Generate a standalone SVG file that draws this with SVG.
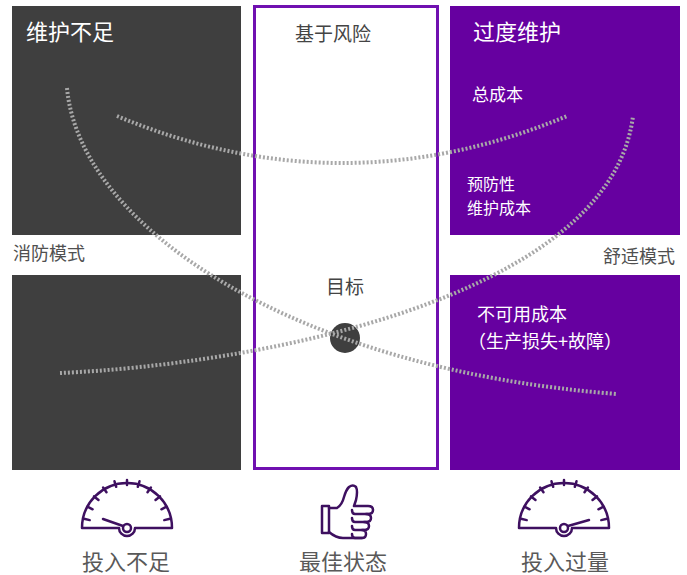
<svg xmlns="http://www.w3.org/2000/svg" width="687" height="575" viewBox="0 0 687 575">
<style>
text{font-family:"Noto Sans CJK SC","Noto Sans",sans-serif}
.dark{fill:#3f3f3f}
.purple{fill:#6600a0}
.wt{fill:#ffffff}
.gt{fill:#444444}
.bt{fill:#595959;font-size:22px;text-anchor:middle}
.curve{fill:none;stroke:#a8a8a8;stroke-width:4;stroke-dasharray:2 2}
.icon{fill:none;stroke:#3e1060;stroke-width:2.5;stroke-linecap:round;stroke-linejoin:round}
</style>
<rect width="687" height="575" fill="#ffffff"/>
<g id="panel-under">
<rect class="dark" x="12" y="6" width="229" height="229"/>
<rect class="dark" x="12" y="275" width="229" height="195"/>
<text class="wt" x="26" y="40" font-size="22">维护不足</text>
</g>
<g id="panel-risk">
<rect x="254.5" y="6.5" width="183" height="462" fill="#ffffff" stroke="#7010b0" stroke-width="3"/>
<text class="gt" x="333" y="41" font-size="19" text-anchor="middle">基于风险</text>
<text class="gt" x="345" y="294" font-size="19" text-anchor="middle">目标</text>
</g>
<g id="panel-over">
<rect class="purple" x="450" y="6" width="230" height="229"/>
<rect class="purple" x="450" y="275" width="230" height="195"/>
<text class="wt" x="473" y="40" font-size="22">过度维护</text>
<text class="wt" x="472" y="101" font-size="17">总成本</text>
<text class="wt" x="467" y="190" font-size="16">预防性</text>
<text class="wt" x="467" y="214" font-size="16">维护成本</text>
<text class="wt" x="477" y="321" font-size="18">不可用成本</text>
<text class="wt" x="468" y="348" font-size="18">（生产损失+故障）</text>
</g>
<g id="mode-labels">
<text x="13" y="260" font-size="18" fill="#505050">消防模式</text>
<text x="675" y="263" font-size="18" fill="#505050" text-anchor="end">舒适模式</text>
</g>
<g id="target">
<circle cx="345" cy="338" r="15" fill="#3f3f3f"/>
</g>
<g id="connectors">
<path class="curve" d="M117,116 Q342,210 567,116"/>
<path class="curve" d="M67,88 C80,230 300,370 617,394"/>
<path class="curve" d="M60,373 C250,365 610,300 633,116"/>
</g>
<g id="icon-under">
<path class="icon" d="M82,528 A45,45 0 0 1 172,528 L135,528 A8,8 0 0 1 119,528 Z"/>
<circle class="icon" cx="127" cy="528" r="4"/>
<line class="icon" x1="103" y1="519" x2="123" y2="526"/>
<g class="icon">
<line x1="89.7" y1="520.1" x2="84" y2="518.8"/><line x1="92.6" y1="509.3" x2="87.5" y2="506.7"/><line x1="98.5" y1="500" x2="94" y2="496.4"/><line x1="106.5" y1="492.3" x2="103.1" y2="487.5"/><line x1="116.2" y1="486.8" x2="114.5" y2="481.3"/><line x1="127" y1="485" x2="127" y2="480"/><line x1="137.8" y1="486.8" x2="139.5" y2="481.3"/><line x1="147.5" y1="492.3" x2="150.9" y2="487.5"/><line x1="155.5" y1="500" x2="160" y2="496.4"/><line x1="161.4" y1="509.3" x2="166.5" y2="506.7"/><line x1="164.3" y1="520.1" x2="170" y2="518.8"/>
</g>
<text class="bt" x="126" y="570">投入不足</text>
</g>
<g id="icon-best">
<path class="icon" d="M322,506 h7 v27 h-7 Z"/>
<path class="icon" d="M329,508 L337,508 Q342,505 344,497 Q346,490 349,487 Q353,484 356,487 Q358,491 356,500 L354,506 L368,506 Q373,506 373,510 Q373,514 368,514 L366,514 Q371,514 371,518 Q371,522 366,522 L364,522 Q369,522 369,526 Q369,530 364,530 L362,530 Q366,530 366,534 Q366,538 362,538 L343,538 Q336,538 329,532"/>
<path class="icon" d="M368,514 L355,514 Q352,514 352,510 M366,522 L355,522 Q352,522 352,518 M364,530 L355,530 Q352,530 352,526 M362,538 L355,538 Q352,538 352,534"/>
<text class="bt" x="343" y="570">最佳状态</text>
</g>
<g id="icon-over">
<path class="icon" d="M519,528 A45,45 0 0 1 609,528 L572,528 A8,8 0 0 1 556,528 Z"/>
<circle class="icon" cx="564" cy="528" r="4"/>
<line class="icon" x1="568" y1="526" x2="589" y2="520"/>
<g class="icon" transform="translate(437,0)">
<line x1="89.7" y1="520.1" x2="84" y2="518.8"/><line x1="92.6" y1="509.3" x2="87.5" y2="506.7"/><line x1="98.5" y1="500" x2="94" y2="496.4"/><line x1="106.5" y1="492.3" x2="103.1" y2="487.5"/><line x1="116.2" y1="486.8" x2="114.5" y2="481.3"/><line x1="127" y1="485" x2="127" y2="480"/><line x1="137.8" y1="486.8" x2="139.5" y2="481.3"/><line x1="147.5" y1="492.3" x2="150.9" y2="487.5"/><line x1="155.5" y1="500" x2="160" y2="496.4"/><line x1="161.4" y1="509.3" x2="166.5" y2="506.7"/><line x1="164.3" y1="520.1" x2="170" y2="518.8"/>
</g>
<text class="bt" x="565" y="570">投入过量</text>
</g>
</svg>
